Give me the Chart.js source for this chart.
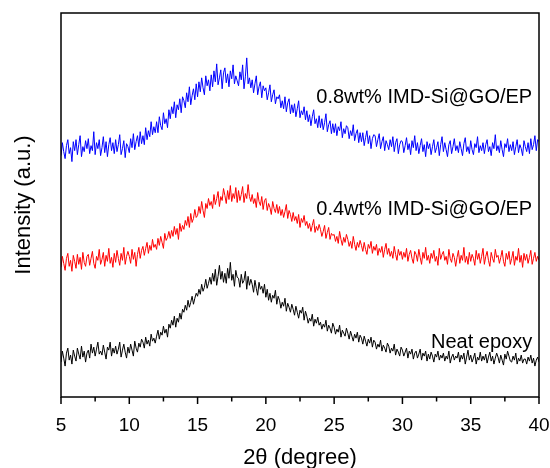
<!DOCTYPE html>
<html>
<head>
<meta charset="utf-8">
<script src="https://cdn.jsdelivr.net/npm/chart.js@4.4.1/dist/chart.umd.min.js"></script>
<style>
    html, body { margin: 0; padding: 0; background: #fff; }
    #wrap { width: 550px; height: 468px; }
</style>
</head>
<body>
<div id="wrap"><canvas id="xrd"></canvas></div>
<script>
const angleStart = 5;
const angleStep = 0.1;
const xTicks = [5, 10, 15, 20, 25, 30, 35, 40];
const xMinorTicks = [7.5, 12.5, 17.5, 22.5, 27.5, 32.5, 37.5];

const seriesNames = ['0.8wt% IMD-Si@GO/EP', '0.4wt% IMD-Si@GO/EP', 'Neat epoxy'];
const seriesColors = ['#0000ff', '#ff0000', '#000000'];

const blueValues = [
    242,255,246,239,252,258,244,250,236,256,
    247,258,243,253,262,241,251,246,257,249,
    259,244,252,247,266,243,255,249,258,242,
    250,261,245,256,241,253,260,247,255,244,
    258,246,253,263,243,249,257,240,254,251,
    245,259,250,264,248,256,262,251,266,254,
    262,253,270,258,267,261,276,263,271,265,
    276,265,281,272,268,285,274,279,270,288,
    279,291,284,296,280,293,288,299,285,301,
    297,290,305,296,311,293,302,309,298,314,
    301,316,306,320,310,303,322,312,318,307,
    323,311,327,316,334,313,320,328,309,325,
    330,315,324,311,327,319,333,314,322,317,
    312,326,318,333,309,321,340,314,320,310,
    318,305,314,322,303,311,316,300,312,307,
    310,298,305,313,296,303,308,294,301,299,
    303,290,297,289,301,286,295,299,284,293,
    285,294,281,289,297,280,287,283,291,278,
    287,276,283,272,281,288,274,279,270,282,
    270,279,268,275,284,266,273,277,264,274,
    265,274,262,271,267,276,260,269,264,272,
    270,259,267,262,273,257,264,268,255,265,
    256,265,252,260,267,254,262,249,259,263,
    262,251,258,264,249,256,261,247,257,253,
    248,258,251,261,246,255,259,244,253,257,
    256,245,252,260,248,254,243,257,250,262,
    247,255,244,252,259,246,253,241,256,249,
    254,243,251,258,245,250,256,242,253,261,
    246,255,248,241,253,257,244,251,259,247,
    252,245,256,249,242,254,260,246,251,244,
    257,248,243,254,250,261,245,252,247,255,
    244,253,258,246,251,242,255,249,263,247,
    252,245,257,248,241,254,250,259,246,253,
    247,256,243,251,258,245,253,249,242,257,
    251,246,255,244,259,248,253,262,247,258,
    256
];

const redValues = [
    130,141,134,127,139,144,131,137,126,142,
    136,129,143,133,140,128,145,135,131,141,
    143,132,139,146,134,129,141,137,148,133,
    138,145,131,142,136,149,134,140,130,144,
    135,147,139,132,144,137,150,133,141,146,
    141,134,148,138,145,131,143,150,139,147,
    151,142,149,155,144,152,147,158,150,153,
    148,159,152,161,155,149,164,157,160,166,
    159,167,161,171,163,169,158,174,166,172,
    168,177,172,181,170,184,175,179,188,180,
    182,191,184,196,187,180,194,189,199,192,
    196,189,203,193,199,206,191,201,197,209,
    202,194,207,198,212,196,204,199,210,195,
    207,197,203,211,195,204,199,213,201,196,
    203,194,199,190,205,196,192,201,188,197,
    199,187,194,190,183,196,189,185,193,184,
    191,182,188,180,186,193,179,187,183,176,
    185,177,181,174,183,170,179,175,182,172,
    176,169,174,166,172,178,165,171,167,173,
    168,161,166,172,159,165,170,158,164,162,
    163,156,161,154,166,158,152,160,155,163,
    158,151,156,149,161,153,147,155,150,157,
    152,146,155,148,143,153,149,156,144,151,
    147,153,142,149,145,151,140,148,154,143,
    149,141,146,139,151,143,137,148,142,146,
    138,145,140,149,136,143,147,139,134,146,
    143,136,148,140,133,145,139,150,137,142,
    134,144,139,147,136,141,132,149,138,143,
    146,137,141,133,148,139,135,144,140,131,
    140,147,134,142,137,150,135,141,133,145,
    136,143,139,132,147,138,144,134,141,149,
    133,141,146,137,131,145,139,135,148,140,
    142,134,140,147,136,131,144,138,146,133,
    139,146,132,141,137,149,135,142,130,144,
    137,143,134,140,147,133,139,145,136,141,
    137
];

const blackValues = [
    35,46,39,31,44,49,37,42,33,47,
    41,36,49,43,38,51,40,46,35,44,
    47,39,53,44,50,41,48,55,43,46,
    42,52,45,38,50,47,55,41,49,44,
    51,43,48,55,40,47,53,45,39,50,
    44,53,47,41,56,49,45,54,50,58,
    55,49,60,53,57,51,63,56,59,54,
    61,67,58,65,62,71,64,68,60,73,
    69,77,72,81,70,79,75,84,78,88,
    85,92,87,97,90,95,101,93,99,104,
    101,108,103,113,106,110,118,109,114,120,
    113,124,116,128,112,121,132,118,126,115,
    124,114,129,119,135,117,123,111,127,120,
    119,110,123,114,117,126,108,121,112,118,
    113,105,117,109,102,115,108,111,104,113,
    100,108,97,104,95,102,99,107,93,101,
    97,89,95,91,99,86,94,90,85,93,
    88,82,91,85,79,87,84,90,77,86,
    81,74,79,76,83,71,78,74,80,72,
    75,68,73,70,77,66,72,69,64,74,
    70,63,68,65,72,60,67,64,61,69,
    64,58,66,61,56,63,59,65,55,62,
    59,53,61,56,51,58,54,60,50,57,
    55,48,53,50,57,46,52,49,45,54,
    51,44,49,46,53,42,48,45,41,50,
    47,41,45,49,39,46,43,48,38,44,
    46,39,43,48,37,44,41,46,36,43,
    38,45,41,35,43,40,46,37,42,39,
    44,36,41,38,46,34,40,43,37,41,
    39,45,35,42,38,44,33,40,47,37,
    42,35,39,44,33,40,37,45,36,41,
    37,43,34,40,45,36,41,33,39,44,
    40,34,42,37,32,43,38,46,41,36,
    35,41,37,44,33,39,36,42,34,38,
    38,33,40,36,42,34,39,31,37,40,
    35
];

// where each curve's label sits (x in degrees, y in a.u.)
const labelX = 39.5;
const labelY = [300, 188, 55];

const fontFamily = 'Arial, "Liberation Sans", sans-serif';

function toPoints(values) {
    return values.map((v, i) => ({ x: +(angleStart + i * angleStep).toFixed(1), y: v }));
}

// box frame, outward ticks and the curve labels
const framePlugin = {
    id: 'frame',
    afterDraw(chart) {
        const { ctx, chartArea: a, scales } = chart;
        ctx.save();
        ctx.strokeStyle = '#000';
        ctx.lineWidth = 1.5;
        ctx.strokeRect(a.left, a.top, a.right - a.left, a.bottom - a.top);

        const tick = (v, len) => {
            const px = scales.x.getPixelForValue(v);
            ctx.beginPath();
            ctx.moveTo(px, a.bottom);
            ctx.lineTo(px, a.bottom + len);
            ctx.stroke();
        };
        xTicks.forEach(v => tick(v, 7));
        xMinorTicks.forEach(v => tick(v, 4.5));

        ctx.fillStyle = '#000';
        ctx.font = '20px ' + fontFamily;
        ctx.textAlign = 'right';
        ctx.textBaseline = 'middle';
        seriesNames.forEach((name, i) => {
            ctx.fillText(name, scales.x.getPixelForValue(labelX), scales.y.getPixelForValue(labelY[i]));
        });
        ctx.restore();
    }
};

const allSeries = [blueValues, redValues, blackValues];

new Chart(document.getElementById('xrd'), {
    type: 'line',
    data: {
        datasets: allSeries.map((vals, i) => ({
            label: seriesNames[i],
            data: toPoints(vals),
            borderColor: seriesColors[i],
            borderWidth: 1,
            pointRadius: 0,
            tension: 0,
            fill: false
        }))
    },
    options: {
        responsive: true,
        maintainAspectRatio: false,
        animation: false,
        layout: { padding: { top: 13, right: 11, left: 0, bottom: 0 } },
        plugins: {
            legend: { display: false },
            tooltip: { enabled: false }
        },
        scales: {
            x: {
                type: 'linear',
                min: 5,
                max: 40,
                afterFit: s => {
                    s.height = 71;
                    s.paddingLeft = 0;
                    s.paddingRight = 0;
                },
                afterBuildTicks: s => { s.ticks = xTicks.map(v => ({ value: v })); },
                grid: { display: false },
                border: { display: false },
                ticks: {
                    color: '#000',
                    padding: 9,
                    maxRotation: 0,
                    font: { family: fontFamily, size: 19 }
                },
                title: {
                    display: true,
                    text: '2θ (degree)',
                    color: '#000',
                    padding: { top: 0, bottom: -3 },
                    font: { family: fontFamily, size: 22 }
                }
            },
            y: {
                min: 0,
                max: 385,
                afterFit: s => { s.width = 61; },
                grid: { display: false },
                border: { display: false },
                ticks: { display: false },
                title: {
                    display: true,
                    text: 'Intensity (a.u.)',
                    color: '#000',
                    padding: { top: 11, bottom: 0 },
                    font: { family: fontFamily, size: 22 }
                }
            }
        }
    },
    plugins: [framePlugin]
});
</script>
</body>
</html>
